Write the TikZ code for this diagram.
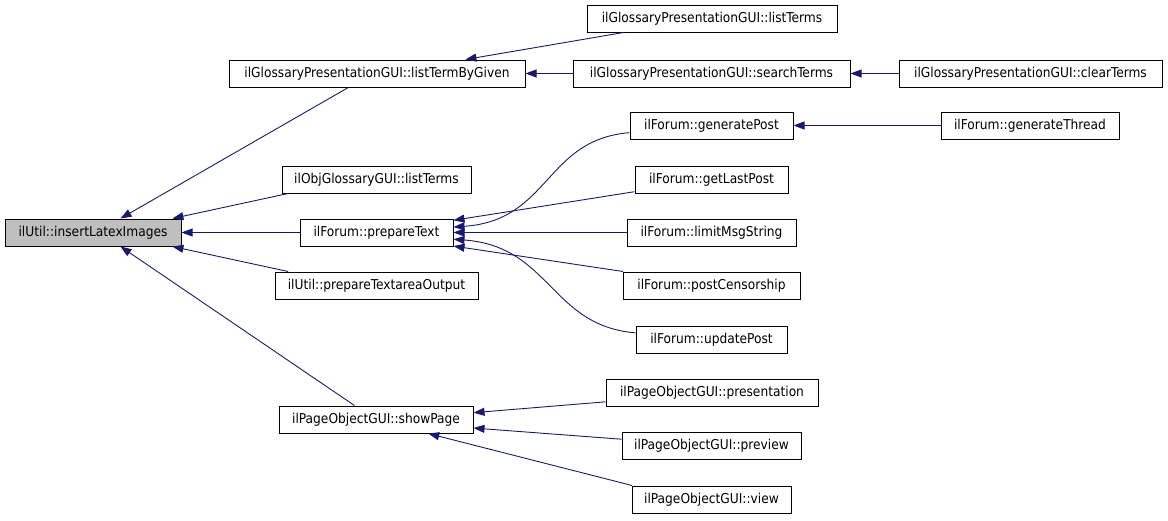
\documentclass[tikz,border=0pt]{standalone}
\usepackage{fontspec}
\setmainfont{DejaVu Sans Condensed}
\usetikzlibrary{arrows.meta}
\definecolor{edgeblue}{HTML}{191970}
\definecolor{callgray}{HTML}{BFBFBF}

\begin{document}
\begin{tikzpicture}[x=1pt, y=-1pt,
    func/.style={draw=black, line width=1pt, fill=white, minimum height=27pt, inner sep=0pt, font=\fontsize{13.6}{15}\selectfont},
    call/.style={-{Triangle[length=11pt,width=8pt]}, draw=edgeblue, line width=0.9pt}
]
\useasboundingbox (0,0) rectangle (1168,520);

% Called function
\node[func, fill=callgray, minimum width=176pt] (ile) at (93,232.5) {ilUtil::insertLatexImages};

% Direct callers
\node[func, minimum width=296pt] (lbg) at (377,73.5) {ilGlossaryPresentationGUI::listTermByGiven};
\node[func, minimum width=189pt] (ogl) at (376.5,179.5) {ilObjGlossaryGUI::listTerms};
\node[func, minimum width=153pt] (pt) at (376.5,232.5) {ilForum::prepareText};
\node[func, minimum width=203pt] (pto) at (376.5,285.5) {ilUtil::prepareTextareaOutput};
\node[func, minimum width=194pt] (sp) at (376,419.5) {ilPageObjectGUI::showPage};

% Second level
\node[func, minimum width=250pt] (glt) at (712,18.5) {ilGlossaryPresentationGUI::listTerms};
\node[func, minimum width=277pt] (st) at (711.5,73.5) {ilGlossaryPresentationGUI::searchTerms};
\node[func, minimum width=163pt] (gp) at (711.5,125.5) {ilForum::generatePost};
\node[func, minimum width=153pt] (glp) at (711.5,179.5) {ilForum::getLastPost};
\node[func, minimum width=169pt] (lms) at (711.5,232.5) {ilForum::limitMsgString};
\node[func, minimum width=177pt] (pc) at (711.5,285.5) {ilForum::postCensorship};
\node[func, minimum width=151pt] (up) at (711.5,339.5) {ilForum::updatePost};
\node[func, minimum width=212pt] (pres) at (712,392.5) {ilPageObjectGUI::presentation};
\node[func, minimum width=179pt] (prev) at (711.5,445.5) {ilPageObjectGUI::preview};
\node[func, minimum width=159pt] (view) at (711.5,499.5) {ilPageObjectGUI::view};

% Third level
\node[func, minimum width=263pt] (ct) at (1030.5,73.5) {ilGlossaryPresentationGUI::clearTerms};
\node[func, minimum width=178pt] (gt) at (1030,125.5) {ilForum::generateThread};

% Calls into insertLatexImages
\draw[call] (lbg.-154) -- (ile.27);
\draw[call] (ogl.-171) -- (ile.10);
\draw[call] (pt.west) -- (ile.east);
\draw[call] (pto.171) -- (ile.-10);
\draw[call] (sp.147) -- (ile.-27);

% Glossary chain
\draw[call] (glt.-171) -- (lbg.9);
\draw[call] (st.west) -- (lbg.east);
\draw[call] (ct.west) -- (st.east);

% Forum callers
\draw[call] (gt.west) -- (gp.east);
\draw[call] (gp.-175) .. controls +(-85,7) and +(97,-7) .. (pt.4);
\draw[call] (glp.-171) -- (pt.9);
\draw[call] (lms.west) -- (pt.east);
\draw[call] (up.175) .. controls +(-85,-7) and +(97,7) .. (pt.-5.5);
\draw[call] (pc.171) -- (pt.-10);

% Page object callers
\draw[call] (pres.-175) -- (sp.4);
\draw[call] (prev.176) -- (sp.-5.6);
\draw[call] (view.170) -- (sp.-15);
\end{tikzpicture}
\end{document}
